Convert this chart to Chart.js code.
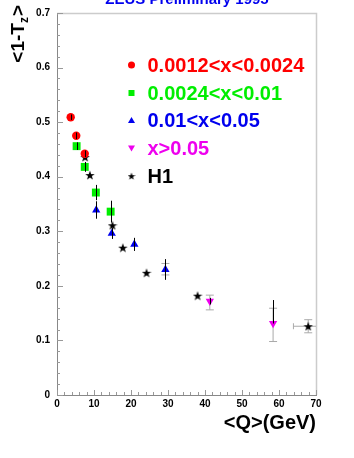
<!DOCTYPE html>
<html><head><meta charset="utf-8">
<script src="https://cdn.jsdelivr.net/npm/chart.js@4/dist/chart.umd.min.js"></script>
<style>html,body{margin:0;padding:0;background:#fff;overflow:hidden}canvas{display:block}</style>
</head><body><canvas id="c" width="354" height="458"></canvas>
<script>
// ---- text ----
const chartTitle = "ZEUS Preliminary 1995";
const xTitle = "<Q>(GeV)";
const yTitleMain = "<1-T";
const yTitleSub = "z";
const yTitleEnd = ">";
const seriesLabels = ["0.0012<x<0.0024", "0.0024<x<0.01", "0.01<x<0.05", "x>0.05", "H1"];
const seriesColors = ["#ff0000", "#00ee00", "#0000ee", "#ee00ee", "#000000"];
const xTickLabels = ["0", "10", "20", "30", "40", "50", "60", "70"];
const yTickLabels = ["0", "0.1", "0.2", "0.3", "0.4", "0.5", "0.6", "0.7"];

// ---- data: <Q> (GeV), <1-Tz>, errors as [down, up] ----
const redQ = [3.7, 5.2, 7.5];
const redV = [0.509, 0.475, 0.442];
const redStat = [[0.005, 0.005], [0.006, 0.006], [0.006, 0.006]];

const greenQ = [5.3, 7.5, 10.5, 14.5];
const greenV = [0.456, 0.418, 0.371, 0.336];
const greenStat = [[0.007, 0.007], [0.009, 0.009], [0.014, 0.014], [0.02, 0.02]];

const blueQ = [10.6, 14.8, 20.9, 29.3];
const blueV = [0.339, 0.296, 0.276, 0.230];
const blueStat = [[0.016, 0.016], [0.010, 0.010], [0.012, 0.012], [0.019, 0.019]];
const blueSys = [[0, 0], [0, 0], [0, 0], [0.010, 0.011]];

const magQ = [41.3, 58.4];
const magV = [0.172, 0.131];
const magStat = [[0.006, 0.006], [0.0, 0.043]];
const magSys = [[0.016, 0.011], [0.033, 0.028]];

const h1Q = [7.6, 8.9, 15.0, 17.8, 24.2, 38.0, 67.9];
const h1V = [0.436, 0.403, 0.311, 0.270, 0.224, 0.182, 0.126];
const h1Sys = [[0, 0], [0, 0], [0, 0], [0, 0], [0, 0], [0, 0], [0.012, 0.012]];
const h1QErr = [0, 0, 0, 0, 0, 0, 4.0];

function pts(q, v) { return q.map((x, i) => ({x: x, y: v[i]})); }

function makeStar(size, color) {
  const c = document.createElement('canvas');
  c.width = size; c.height = size;
  const g = c.getContext('2d');
  g.fillStyle = color;
  g.beginPath();
  for (let i = 0; i < 10; i++) {
    const a = -Math.PI / 2 + i * Math.PI / 5;
    const r = (i % 2) ? size * 0.2 : size * 0.5;
    const px = size / 2 + r * Math.cos(a), py = size / 2 + 0.5 + r * Math.sin(a);
    if (i === 0) g.moveTo(px, py); else g.lineTo(px, py);
  }
  g.closePath(); g.fill();
  return c;
}
const starBig = makeStar(10, '#000');
const starSmall = makeStar(8, '#000');

const datasets = [
  {label: seriesLabels[0], data: pts(redQ, redV), pointStyle: 'circle', pointRadius: 4.2, backgroundColor: seriesColors[0], borderColor: seriesColors[0], borderWidth: 0, stat: redStat},
  {label: seriesLabels[1], data: pts(greenQ, greenV), pointStyle: 'rect', pointRadius: 5.6, backgroundColor: seriesColors[1], borderColor: seriesColors[1], borderWidth: 0, stat: greenStat},
  {label: seriesLabels[2], data: pts(blueQ, blueV), pointStyle: 'triangle', pointRadius: 4.8, backgroundColor: seriesColors[2], borderColor: seriesColors[2], borderWidth: 0, stat: blueStat, sys: blueSys},
  {label: seriesLabels[3], data: pts(magQ, magV), pointStyle: 'triangle', pointRotation: 180, pointRadius: 4.8, backgroundColor: seriesColors[3], borderColor: seriesColors[3], borderWidth: 0, stat: magStat, sys: magSys},
  {label: seriesLabels[4], data: pts(h1Q, h1V), pointStyle: starBig, pointRadius: 5, backgroundColor: '#000', borderColor: '#000', sys: h1Sys, xerr: h1QErr}
];

const FONT = '"Liberation Sans", Arial, Helvetica, sans-serif';

const decor = {
  id: 'decor',
  beforeDatasetsDraw(chart) {
    const ctx = chart.ctx, xs = chart.scales.x, ys = chart.scales.y, a = chart.chartArea;
    ctx.save();
    // frame (top, right)
    ctx.strokeStyle = '#cccccc'; ctx.lineWidth = 1.5;
    ctx.beginPath();
    ctx.moveTo(a.left, a.top + 0.5); ctx.lineTo(a.right + 0.5, a.top + 0.5); ctx.lineTo(a.right + 0.5, a.bottom);
    ctx.stroke();
    // inner ticks
    ctx.strokeStyle = '#999'; ctx.lineWidth = 1;
    ctx.beginPath();
    for (let q = 0; q <= 70; q += 2) {
      const px = Math.round(xs.getPixelForValue(q)) + 0.5;
      const len = (q % 10 === 0) ? 5 : 3;
      ctx.moveTo(px, a.bottom); ctx.lineTo(px, a.bottom - len);
    }
    for (let k = 0; k <= 35; k++) {
      const v = k * 0.02;
      const py = Math.round(ys.getPixelForValue(v)) + 0.5;
      const len = (k % 5 === 0) ? 6 : 3;
      ctx.moveTo(a.left, py); ctx.lineTo(a.left + len, py);
    }
    ctx.stroke();
    // systematic (grey) error bars
    ctx.strokeStyle = '#aaaaaa'; ctx.lineWidth = 1;
    chart.data.datasets.forEach(ds => {
      ds.data.forEach((p, i) => {
        const px = xs.getPixelForValue(p.x), py = ys.getPixelForValue(p.y);
        if (ds.sys && (ds.sys[i][0] || ds.sys[i][1])) {
          const y0 = ys.getPixelForValue(p.y - ds.sys[i][0]), y1 = ys.getPixelForValue(p.y + ds.sys[i][1]);
          ctx.beginPath();
          ctx.moveTo(px, y0); ctx.lineTo(px, y1);
          ctx.moveTo(px - 4, y0); ctx.lineTo(px + 4, y0);
          ctx.moveTo(px - 4, y1); ctx.lineTo(px + 4, y1);
          ctx.stroke();
        }
        if (ds.xerr && ds.xerr[i]) {
          const x0 = xs.getPixelForValue(p.x - ds.xerr[i]), x1 = Math.min(xs.getPixelForValue(p.x + ds.xerr[i]), a.right);
          ctx.beginPath();
          ctx.moveTo(x0, py); ctx.lineTo(x1, py);
          ctx.moveTo(x0, py - 3); ctx.lineTo(x0, py + 3);
          ctx.stroke();
        }
      });
    });
    ctx.restore();
  },
  afterDatasetsDraw(chart) {
    const ctx = chart.ctx, xs = chart.scales.x, ys = chart.scales.y, a = chart.chartArea;
    ctx.save();
    // statistical (black) error bars
    ctx.strokeStyle = '#000'; ctx.lineWidth = 1;
    chart.data.datasets.forEach(ds => {
      if (!ds.stat) return;
      ds.data.forEach((p, i) => {
        const px = Math.round(xs.getPixelForValue(p.x)) + 0.5;
        ctx.beginPath();
        ctx.moveTo(px, ys.getPixelForValue(p.y - ds.stat[i][0]));
        ctx.lineTo(px, ys.getPixelForValue(p.y + ds.stat[i][1]));
        ctx.stroke();
      });
    });
    // legend
    const lx = 131.5, tx = 147.5, rows = [65, 93, 120.5, 148, 176];
    ctx.font = 'bold 20px ' + FONT;
    ctx.textBaseline = 'middle'; ctx.textAlign = 'left';
    chart.data.datasets.forEach((ds, i) => {
      const y = rows[i];
      ctx.fillStyle = seriesColors[i];
      ctx.beginPath();
      if (i === 0) { ctx.arc(lx, y, 3.5, 0, Math.PI * 2); ctx.fill(); }
      else if (i === 1) { ctx.fillRect(lx - 3, y - 3, 6, 6); }
      else if (i === 2) { ctx.moveTo(lx, y - 3.5); ctx.lineTo(lx + 3.5, y + 2.5); ctx.lineTo(lx - 3.5, y + 2.5); ctx.closePath(); ctx.fill(); }
      else if (i === 3) { ctx.moveTo(lx, y + 3.5); ctx.lineTo(lx + 3.5, y - 2.5); ctx.lineTo(lx - 3.5, y - 2.5); ctx.closePath(); ctx.fill(); }
      else { ctx.drawImage(starSmall, lx - 4, y - 4); }
      ctx.fillText(ds.label, tx, y + 1);
    });
    // chart title (cut at top)
    ctx.fillStyle = '#0000ee';
    ctx.font = 'bold 15px ' + FONT;
    ctx.textAlign = 'center'; ctx.textBaseline = 'alphabetic';
    ctx.fillText(chartTitle, 187, 4);
    // x title
    ctx.fillStyle = '#000';
    ctx.font = 'bold 20px ' + FONT;
    ctx.textAlign = 'right';
    ctx.fillText(xTitle, a.right, 429);
    // y title (rotated)
    ctx.translate(24, 5);
    ctx.rotate(-Math.PI / 2);
    ctx.textAlign = 'left';
    ctx.font = 'bold 19px ' + FONT;
    const wEnd = ctx.measureText(yTitleEnd).width;
    const wMain = ctx.measureText(yTitleMain).width;
    ctx.font = 'bold 12px ' + FONT;
    const wSub = ctx.measureText(yTitleSub).width;
    const total = wMain + wSub + wEnd + 1;
    const x0 = -total;
    ctx.font = 'bold 19px ' + FONT;
    ctx.fillText(yTitleMain, x0, 0);
    ctx.font = 'bold 12px ' + FONT;
    ctx.fillText(yTitleSub, x0 + wMain, 4);
    ctx.font = 'bold 19px ' + FONT;
    ctx.fillText(yTitleEnd, x0 + wMain + wSub + 1, 0);
    ctx.restore();
  }
};

new Chart(document.getElementById('c'), {
  type: 'scatter',
  data: {datasets: datasets},
  options: {
    responsive: false,
    animation: false,
    devicePixelRatio: 1,
    layout: {padding: {left: 0, right: 38, top: 10, bottom: 0}},
    plugins: {legend: {display: false}, tooltip: {enabled: false}},
    scales: {
      x: {
        type: 'linear', min: 0, max: 70,
        afterFit(s) { s.height = 63; },
        grid: {drawOnChartArea: false, drawTicks: false},
        border: {display: true, color: '#888', width: 1},
        ticks: {stepSize: 10, padding: 3, color: '#000', font: {family: FONT, size: 10, weight: 'bold'},
          maxRotation: 0, autoSkip: false, callback: (v, i) => xTickLabels[i]}
      },
      y: {
        type: 'linear', min: 0, max: 0.7,
        afterFit(s) { s.width = 57; },
        grid: {drawOnChartArea: false, drawTicks: false},
        border: {display: true, color: '#888', width: 1},
        ticks: {stepSize: 0.1, padding: 7, color: '#000', font: {family: FONT, size: 10, weight: 'bold'},
          autoSkip: false, callback: (v, i) => yTickLabels[i]}
      }
    }
  },
  plugins: [decor]
});
</script>
</body></html>
